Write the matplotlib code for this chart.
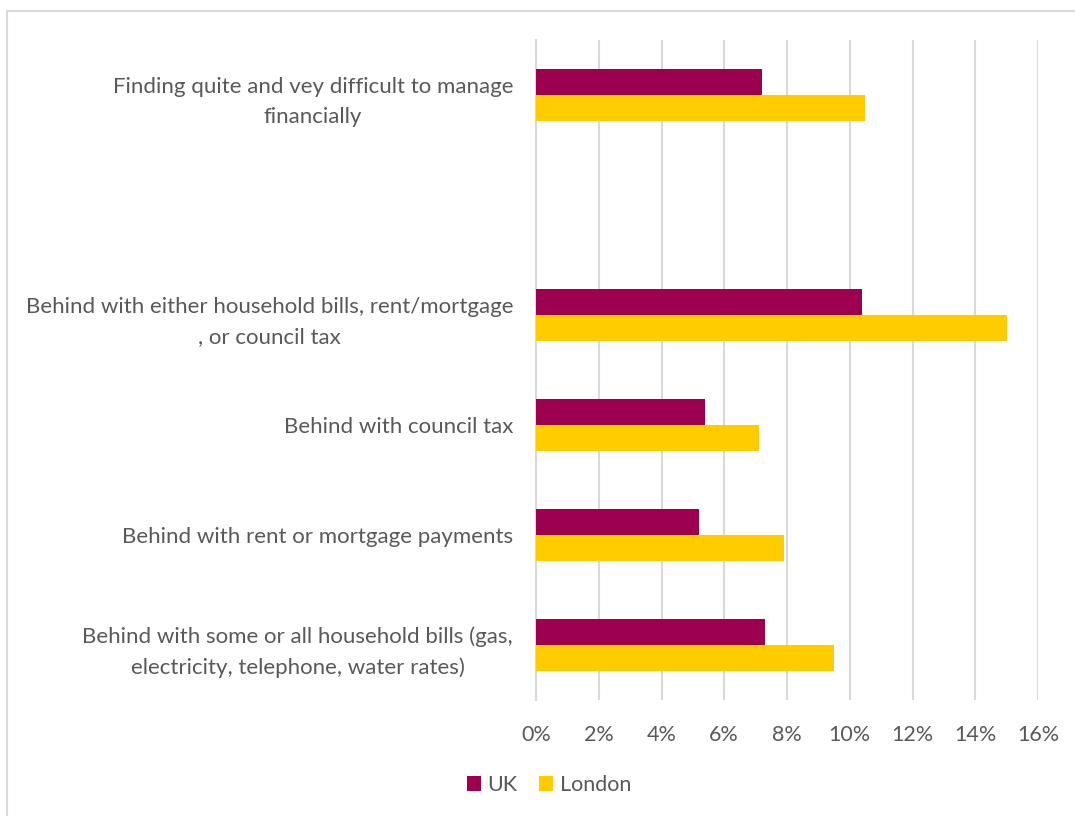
import numpy as np
import matplotlib.pyplot as plt
from matplotlib.patches import Rectangle
from matplotlib.ticker import PercentFormatter

plt.rcParams['font.family'] = ['Lato', 'DejaVu Sans']

# bottom to top; the empty slot leaves a gap under the first question
categories = [
    'Behind with some or all household bills (gas,\nelectricity, telephone, water rates)',
    'Behind with rent or mortgage payments',
    'Behind with council tax',
    'Behind with either household bills, rent/mortgage\n, or council tax',
    '',
    'Finding quite and vey difficult to manage\nfinancially',
]
uk = [7.3, 5.2, 5.4, 10.4, np.nan, 7.2]
london = [9.5, 7.9, 7.1, 15.0, np.nan, 10.5]
xticks = [0, 2, 4, 6, 8, 10, 12, 14, 16]

uk_col = '#9e0050'
london_col = '#ffcc00'
grey_txt = '#595959'
grid_col = '#d9d9d9'

fig = plt.figure(figsize=(10.75, 8.16), dpi=100)
ax = fig.add_axes([536 / 1075, 1 - 700 / 816, 502 / 1075, 660 / 816])

# outer chart border, runs off the right and bottom edges
fig.patches.append(Rectangle((7 / 1075, -0.1), 1.2, 1 - 11 / 816 + 0.1,
                             transform=fig.transFigure, fill=False,
                             edgecolor=grid_col, linewidth=1.5))

y = np.arange(len(categories))
h = 0.236
ax.barh(y + h / 2, uk, height=h, color=uk_col, label='UK', zorder=3)
ax.barh(y - h / 2, london, height=h, color=london_col, label='London', zorder=3)

ax.set_xlim(0, 16)
ax.set_ylim(-0.5, len(categories) - 0.5)
ax.set_xticks(xticks)
ax.xaxis.set_major_formatter(PercentFormatter(decimals=0))
ax.set_yticks(y)
ax.set_yticklabels(categories, multialignment='center', linespacing=1.6,
                   fontsize=16, color=grey_txt)
ax.tick_params(axis='y', length=0, pad=16.5)

ax.tick_params(axis='x', length=0, pad=18, labelsize=15.5, colors=grey_txt)

ax.grid(axis='x', color=grid_col, linewidth=1.5, zorder=0)
for s in ['top', 'right', 'bottom']:
    ax.spines[s].set_visible(False)
ax.spines['left'].set_color(grid_col)
ax.spines['left'].set_linewidth(1.5)

leg = fig.legend(loc='center', bbox_to_anchor=(549 / 1075, 1 - 785 / 816),
                 ncol=2, frameon=False, fontsize=15.5, handlelength=0.65,
                 handleheight=0.65, handletextpad=0.3, columnspacing=1.0)
for t in leg.get_texts():
    t.set_color(grey_txt)

fig.savefig('out.png', dpi=100)
